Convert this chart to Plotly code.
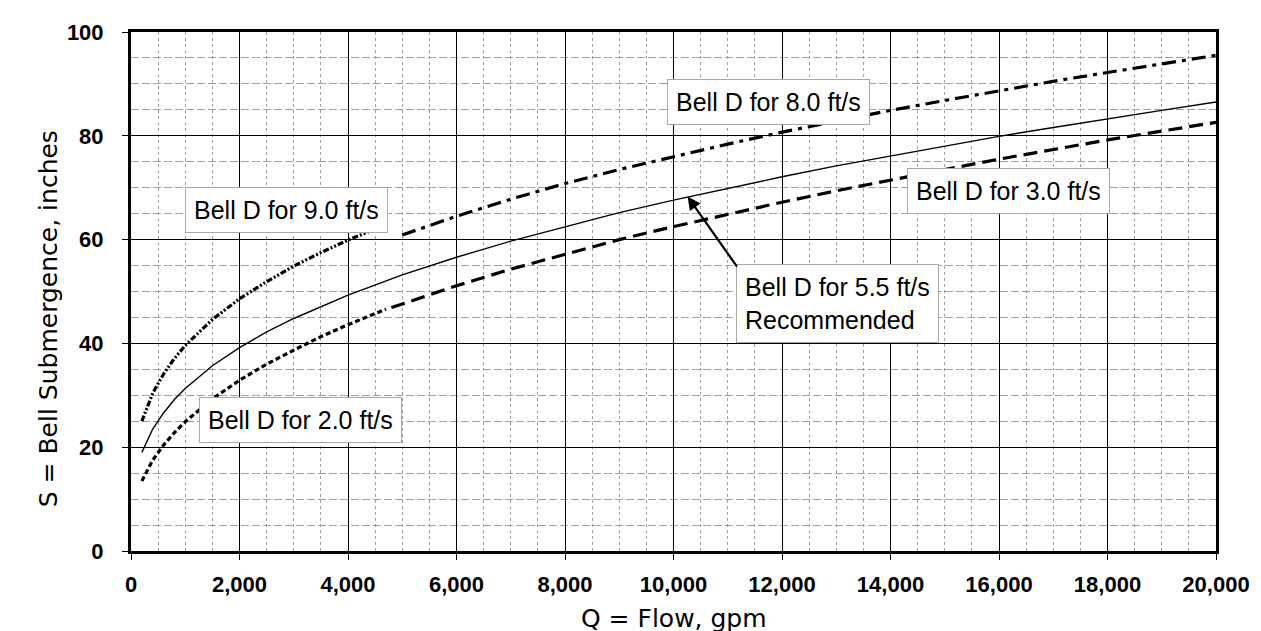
import plotly.graph_objects as go

# ---- data ----
q_55 = [200, 400, 600, 800, 1000, 1500, 2000, 2500, 3000, 4000, 5000, 6000, 7000, 8000, 9000,
        10000, 11000, 12000, 13000, 14000, 15000, 16000, 17000, 18000, 19000, 20000]
s_55 = [19.0, 23.5, 26.6, 29.2, 31.3, 35.7, 39.2, 42.2, 44.8, 49.3, 53.2, 56.6, 59.7, 62.5, 65.2,
        67.6, 69.9, 72.1, 74.2, 76.1, 78.0, 79.9, 81.6, 83.3, 84.9, 86.5]

q_90 = [200, 400, 600, 800, 1000, 1500, 2000, 2500, 3000, 3500, 4000, 4500, 4700]
s_90 = [25.0, 30.4, 34.1, 37.1, 39.6, 44.6, 48.6, 51.9, 54.9, 57.5, 59.9, 62.1, 62.9]

q_80 = [5000, 6000, 7000, 8000, 9000, 10000, 11000, 12000, 13000, 14000, 15000, 16000,
        17000, 18000, 19000, 20000]
s_80 = [60.9, 64.5, 67.8, 70.8, 73.5, 76.0, 78.4, 80.7, 82.8, 84.9, 86.8, 88.7,
        90.5, 92.2, 93.9, 95.5]

q_20 = [200, 400, 600, 800, 1000, 1500, 2000, 2500, 3000, 3500, 4000, 4500, 4700]
s_20 = [13.5, 17.5, 20.4, 22.8, 24.9, 29.3, 32.9, 36.0, 38.7, 41.3, 43.6, 45.8, 46.6]

q_30 = [4800, 5000, 6000, 7000, 8000, 9000, 10000, 11000, 12000, 13000, 14000, 15000, 16000,
        17000, 18000, 19000, 20000]
s_30 = [46.9, 47.6, 51.1, 54.3, 57.2, 60.0, 62.5, 64.9, 67.2, 69.4, 71.5, 73.5, 75.5,
        77.4, 79.2, 80.9, 82.6]

x_ticks = [0, 2000, 4000, 6000, 8000, 10000, 12000, 14000, 16000, 18000, 20000]
y_ticks = [0, 20, 40, 60, 80, 100]

FONT = "Liberation Sans, Arial, Helvetica, sans-serif"
TFONT = "DejaVu Sans, Liberation Sans, Arial, sans-serif"

fig = go.Figure()
fig.add_trace(go.Scatter(x=q_90, y=s_90, mode="lines", line=dict(color="black", width=3.2, dash="6px,2px,2px,2px,2px,2px"), showlegend=False))
fig.add_trace(go.Scatter(x=q_80, y=s_80, mode="lines", line=dict(color="black", width=3.2, dash="14px,6px,4px,6px"), showlegend=False))
fig.add_trace(go.Scatter(x=q_55, y=s_55, mode="lines", line=dict(color="black", width=1.4), showlegend=False))
fig.add_trace(go.Scatter(x=q_20, y=s_20, mode="lines", line=dict(color="black", width=3.2, dash="5px,3px"), showlegend=False))
fig.add_trace(go.Scatter(x=q_30, y=s_30, mode="lines", line=dict(color="black", width=3.2, dash="14px,7px"), showlegend=False))

box = dict(font=dict(family=FONT, size=25, color="black"), bgcolor="white",
           bordercolor="#a8a8a8", borderwidth=1, borderpad=8, showarrow=False,
           xref="x", yref="y")
fig.add_annotation(x=2860, y=65.7, text="Bell D for 9.0 ft/s", **box)
fig.add_annotation(x=11760, y=86.5, text="Bell D for 8.0 ft/s", **box)
fig.add_annotation(x=3120, y=25.2, text="Bell D for 2.0 ft/s", **box)
fig.add_annotation(x=16180, y=69.3, text="Bell D for 3.0 ft/s", **box)
fig.add_annotation(x=13030, y=47.6, text="Bell D for 5.5 ft/s<br>Recommended", align="left", **box)
# arrow
fig.add_annotation(x=10260, y=68.3, ax=11190, ay=54.5, axref="x", ayref="y", xref="x", yref="y",
                   text="", showarrow=True, arrowhead=2, arrowsize=1.2, arrowwidth=2.2, arrowcolor="black")

# axis titles
fig.add_annotation(xref="paper", yref="paper", x=-0.091, y=0.448, text="S = Bell Submergence, inches",
                   textangle=-90, showarrow=False, font=dict(family=TFONT, size=25, color="black"))
fig.add_annotation(xref="paper", yref="paper", x=0.5, y=-0.13, text="Q = Flow, gpm",
                   showarrow=False, font=dict(family=TFONT, size=25, color="black"), yanchor="middle")

axis_common = dict(showline=True, mirror=True, linecolor="black", linewidth=3,
                   showgrid=True, gridcolor="black", gridwidth=1.4,
                   ticks="outside", ticklen=6, tickcolor="black", tickwidth=1,
                   zeroline=False,
                   tickfont=dict(family=FONT, size=22, color="black", weight="bold"))

fig.update_xaxes(range=[0, 20000], tickvals=x_ticks, tickformat=",", ticklabelstandoff=6,
                 minor=dict(dtick=500, showgrid=True, gridcolor="#a0a0a0", gridwidth=1, griddash="3px,3px"),
                 **axis_common)
fig.update_yaxes(range=[0, 100], tickvals=y_ticks, ticklabelstandoff=14,
                 minor=dict(dtick=5, showgrid=True, gridcolor="#a0a0a0", gridwidth=1, griddash="8px,3px"),
                 **axis_common)

fig.update_layout(width=1261, height=631, margin=dict(l=123, r=53, t=16, b=88),
                  plot_bgcolor="white", paper_bgcolor="white", font=dict(family=FONT))

fig.write_html("out.html")
